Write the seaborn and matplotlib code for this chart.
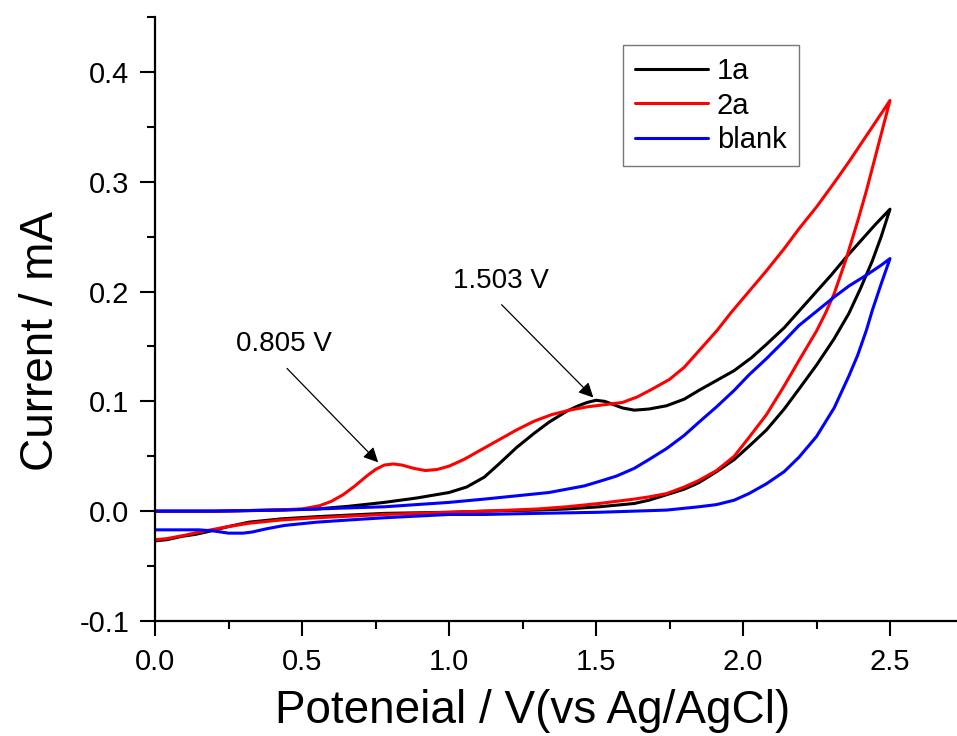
import matplotlib
matplotlib.use("Agg")
import matplotlib.pyplot as plt
from matplotlib.ticker import MultipleLocator
import numpy as np
import pandas as pd
import seaborn as sns

# ---------------- data ----------------
# 1a : forward scan (0 -> 2.5 V) then reverse scan (2.5 -> 0 V)
x_1a = [0.00, 0.20, 0.40, 0.55, 0.66, 0.78, 0.89, 1.00, 1.06, 1.12, 1.17, 1.23, 1.29, 1.34,
        1.40, 1.44, 1.47, 1.50, 1.53, 1.56, 1.59, 1.63, 1.68, 1.74, 1.80, 1.85, 1.91, 1.97,
        2.03, 2.08, 2.14, 2.19, 2.25, 2.30, 2.35, 2.40, 2.45, 2.50,
        2.47, 2.44, 2.40, 2.36, 2.31, 2.25, 2.19, 2.14, 2.08, 2.02, 1.97, 1.91, 1.85, 1.80,
        1.74, 1.68, 1.63, 1.51, 1.40, 1.30, 1.12, 1.00, 0.78, 0.55, 0.43, 0.32, 0.25, 0.19,
        0.14, 0.09, 0.04, 0.00]
y_1a = [0.000, 0.000, 0.001, 0.002, 0.0045, 0.008, 0.012, 0.017, 0.022, 0.031, 0.043, 0.058,
        0.071, 0.081, 0.091, 0.096, 0.099, 0.101, 0.100, 0.097, 0.094, 0.092, 0.093, 0.096,
        0.102, 0.110, 0.119, 0.128, 0.140, 0.152, 0.167, 0.182, 0.200, 0.215, 0.231, 0.246,
        0.261, 0.275,
        0.250, 0.228, 0.203, 0.180, 0.157, 0.133, 0.111, 0.093, 0.074, 0.059, 0.047, 0.036,
        0.026, 0.020, 0.015, 0.010, 0.007, 0.004, 0.002, 0.001, 0.000, -0.001, -0.002,
        -0.005, -0.007, -0.010, -0.014, -0.018, -0.021, -0.023, -0.026, -0.027]

# 2a
x_2a = [0.00, 0.20, 0.40, 0.50, 0.56, 0.60, 0.64, 0.68, 0.72, 0.75, 0.78, 0.81, 0.84, 0.88,
        0.92, 0.96, 1.00, 1.05, 1.11, 1.17, 1.23, 1.29, 1.35, 1.41, 1.47, 1.53, 1.59, 1.64,
        1.69, 1.75, 1.80, 1.85, 1.91, 1.96, 2.02, 2.08, 2.14, 2.19, 2.25, 2.31, 2.36, 2.42,
        2.46, 2.50,
        2.46, 2.42, 2.39, 2.35, 2.31, 2.28, 2.25, 2.19, 2.14, 2.08, 2.02, 1.97, 1.91,
        1.85, 1.80, 1.74, 1.68, 1.63, 1.51, 1.40, 1.30, 1.12, 1.00, 0.78, 0.55, 0.43, 0.32,
        0.25, 0.19, 0.15, 0.10, 0.04, 0.00]
y_2a = [0.000, 0.000, 0.001, 0.002, 0.005, 0.009, 0.015, 0.023, 0.032, 0.038, 0.042, 0.043,
        0.042, 0.039, 0.037, 0.038, 0.041, 0.047, 0.056, 0.065, 0.074, 0.082, 0.088, 0.092,
        0.095, 0.097, 0.099, 0.104, 0.111, 0.120, 0.131, 0.146, 0.164, 0.181, 0.200, 0.219,
        0.239, 0.257, 0.277, 0.299, 0.318, 0.342, 0.358, 0.374,
        0.333, 0.292, 0.264, 0.229, 0.198, 0.180, 0.164, 0.137, 0.114, 0.088, 0.067,
        0.050, 0.037, 0.028, 0.022, 0.016, 0.013, 0.011, 0.007, 0.004, 0.002, 0.000, -0.001,
        -0.003, -0.006, -0.008, -0.011, -0.014, -0.017, -0.019, -0.022, -0.025, -0.026]

# blank
x_blank = [0.00, 0.20, 0.44, 0.66, 0.78, 0.89, 1.00, 1.12, 1.23, 1.34, 1.40, 1.46, 1.51, 1.57,
           1.63, 1.68, 1.74, 1.80, 1.85, 1.91, 1.97, 2.02, 2.08, 2.14, 2.19, 2.25, 2.31, 2.36,
           2.42, 2.47, 2.50,
           2.47, 2.44, 2.42, 2.39, 2.36, 2.31, 2.25, 2.19, 2.14, 2.08, 2.02, 1.97, 1.91, 1.85,
           1.74, 1.51, 1.30, 1.12, 1.00, 0.78, 0.66, 0.55, 0.44, 0.38, 0.33, 0.30, 0.25, 0.20,
           0.15, 0.08, 0.00]
y_blank = [0.000, 0.000, 0.001, 0.003, 0.004, 0.006, 0.008, 0.011, 0.014, 0.017, 0.020, 0.023,
           0.027, 0.032, 0.039, 0.047, 0.057, 0.069, 0.081, 0.095, 0.110, 0.124, 0.139, 0.155,
           0.169, 0.182, 0.195, 0.205, 0.215, 0.224, 0.230,
           0.207, 0.183, 0.165, 0.142, 0.123, 0.094, 0.068, 0.049, 0.036, 0.025, 0.016, 0.010,
           0.006, 0.004, 0.001, -0.001, -0.002, -0.003, -0.003, -0.006, -0.008, -0.010, -0.013,
           -0.016, -0.019, -0.020, -0.020, -0.018, -0.017, -0.017, -0.017]

samples = ["1a", "2a", "blank"]
colors = ["#000000", "#FF0000", "#0000FF"]

peak_labels = ["0.805 V", "1.503 V"]
label_xy = [(0.44, 0.152), (1.175, 0.2095)]
arrow_start = [(0.449, 0.130), (1.179, 0.188)]
arrow_tip = [(0.759, 0.0445), (1.491, 0.1035)]

xticks = [0.0, 0.5, 1.0, 1.5, 2.0, 2.5]
yticks = [-0.1, 0.0, 0.1, 0.2, 0.3, 0.4]

# ---------------- build table ----------------
frames = []
for name, xs, ys in zip(samples, [x_1a, x_2a, x_blank], [y_1a, y_2a, y_blank]):
    frames.append(pd.DataFrame({"E": xs, "I": ys, "sample": name}))
df = pd.concat(frames, ignore_index=True)

# ---------------- style ----------------
sns.set_theme(style="ticks")
plt.rcParams["font.family"] = ["Liberation Sans", "DejaVu Sans"]
plt.rcParams["text.color"] = "black"
plt.rcParams["axes.labelcolor"] = "black"

fig = plt.figure(figsize=(9.57, 7.36), dpi=100)
ax = fig.add_axes([155 / 957, 115 / 736, 808.5 / 957, 604 / 736])

sns.lineplot(data=df, x="E", y="I", hue="sample", palette=dict(zip(samples, colors)),
             sort=False, estimator=None, linewidth=2.2, ax=ax)

ax.set_xlim(0, 2.75)
ax.set_ylim(-0.1, 0.45)
ax.set_xticks(xticks)
ax.set_yticks(yticks)
ax.set_xticklabels([f"{t:.1f}" for t in xticks])
ax.set_yticklabels([f"{t:.1f}" for t in yticks])
ax.xaxis.set_minor_locator(MultipleLocator(0.25))
ax.yaxis.set_minor_locator(MultipleLocator(0.05))
ax.tick_params(which="major", length=10.5, width=1.5, direction="out", labelsize=21,
               colors="black")
ax.tick_params(axis="x", which="major", pad=9)
ax.tick_params(axis="y", which="major", pad=8)
ax.tick_params(which="minor", length=5.5, width=1.5, direction="out", colors="black")

for side in ["top", "right"]:
    ax.spines[side].set_visible(False)
for side in ["left", "bottom"]:
    ax.spines[side].set_linewidth(1.6)
    ax.spines[side].set_color("black")

ax.set_xlabel("Poteneial / V(vs Ag/AgCl)", fontsize=33)
ax.set_ylabel("Current / mA", fontsize=33)
ax.xaxis.set_label_coords(0.4675, -0.112)
ax.yaxis.set_label_coords(-0.114, 0.464)

for txt, (tx, ty), s, t in zip(peak_labels, label_xy, arrow_start, arrow_tip):
    ax.text(tx, ty, txt, fontsize=20, ha="center", va="center", color="black")
    ax.annotate("", xy=t, xytext=s,
                arrowprops=dict(arrowstyle="-|>", color="black", lw=0.9,
                                mutation_scale=22, shrinkA=0, shrinkB=0))

handles, labels = ax.get_legend_handles_labels()
leg = ax.legend(handles, labels, loc="upper left",
                bbox_to_anchor=(623 / 957, 1 - 45 / 736), bbox_transform=fig.transFigure,
                fontsize=21, frameon=True, fancybox=False, borderaxespad=0,
                handlelength=2.5, handletextpad=0.3, labelspacing=0.22, borderpad=0.42)
leg.get_frame().set_edgecolor("#555555")
leg.get_frame().set_linewidth(1.0)
for line in leg.get_lines():
    line.set_linewidth(2.2)

fig.savefig("out.png", dpi=100)
